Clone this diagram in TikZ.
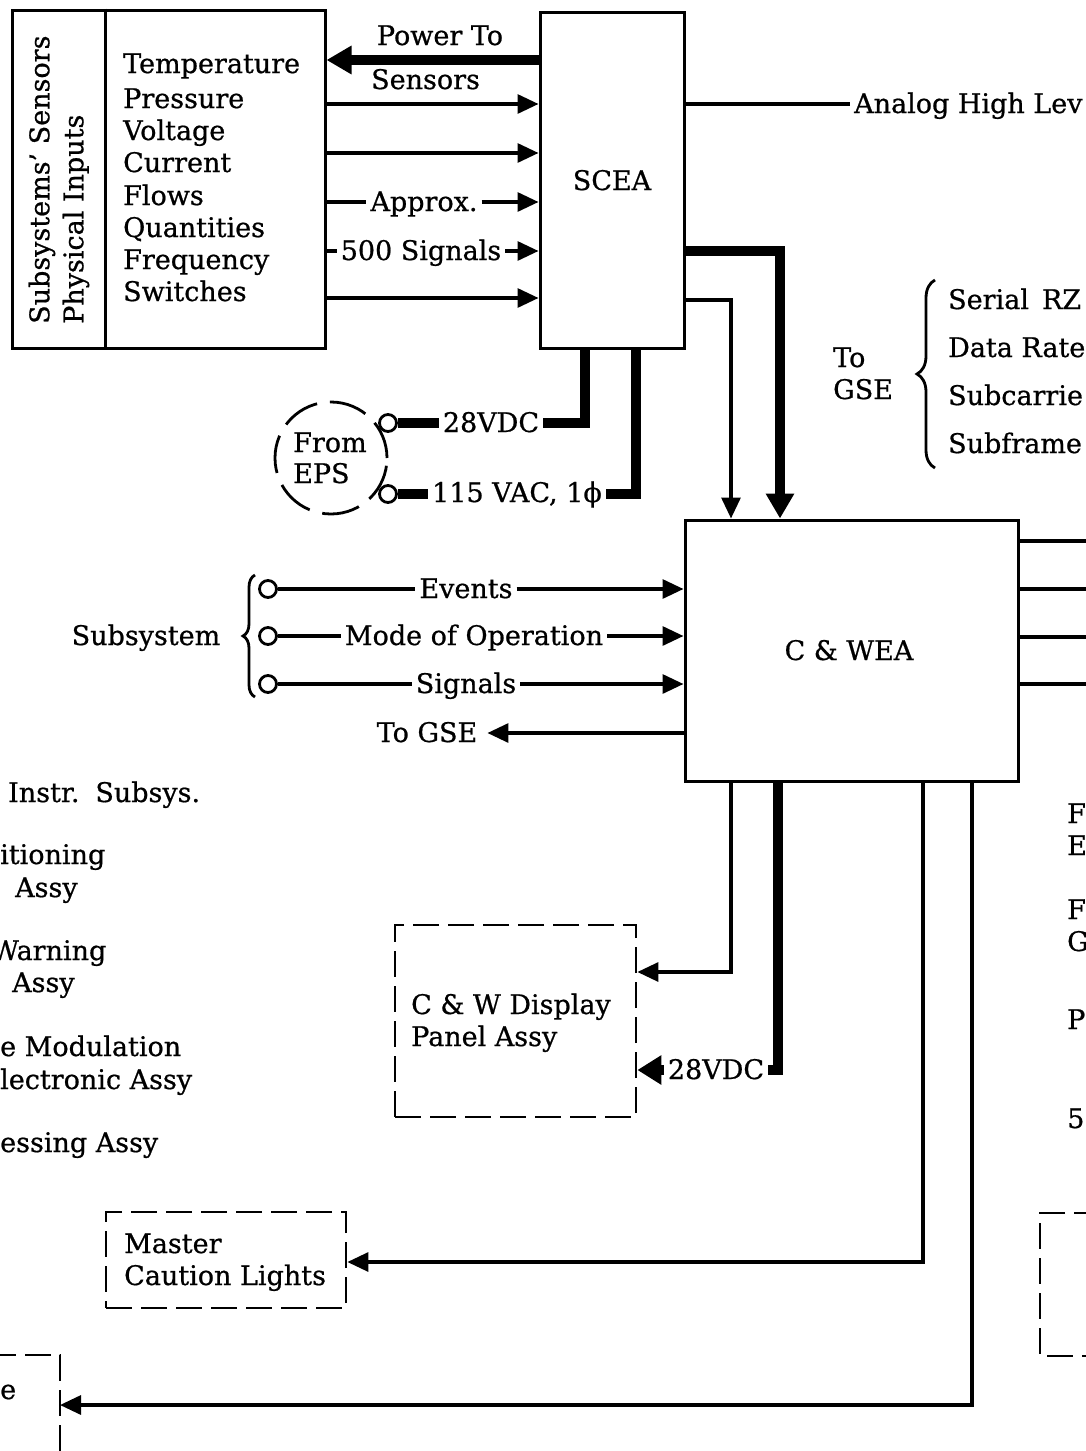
\documentclass[tikz,border=0pt]{standalone}
\usepackage{fontspec}
\setmainfont{DejaVu Serif}[FakeBold=0.7]
\usetikzlibrary{arrows.meta,decorations.pathreplacing,calc}
\begin{document}
\begin{tikzpicture}[x=1pt,y=-1pt,
  wire/.style={line width=3.2pt},
  bus/.style={line width=10pt},
  tipS/.style={-{Triangle[length=21pt,width=19pt]}},
  tipB/.style={-{Triangle[length=25pt,width=27pt]}},
  lbl/.style={font=\fontsize{27}{30}\selectfont, inner xsep=4pt, inner ysep=0pt},
  box/.style={draw, line width=3pt, inner sep=0pt},
  dbox/.style={draw, line width=2.8pt, dash pattern=on 26pt off 9pt, inner sep=0pt},
  term/.style={circle, draw, line width=2.8pt, fill=white, minimum size=17pt, inner sep=0pt},
  brc/.style={line width=2.8pt, decorate, decoration={brace, amplitude=#1}}
]
\useasboundingbox (0,0) rectangle (1086,1451);
\clip (0,0) rectangle (1086,1451);
\fill[white] (0,0) rectangle (1086,1451);

% ---------- sensor box ----------
\node[box, minimum width=313pt, minimum height=338pt] (sens) at (168.5,179) {};
\draw[wire] ([xshift=95pt]sens.north west) -- ([xshift=95pt]sens.south west);
\node[lbl, rotate=90, anchor=west] (s1l) at (42,328) {Subsystems' Sensors};
\node[lbl, rotate=90, anchor=west] (s2l) at (76,328) {Physical Inputs};
\foreach \t/\y [count=\i] in {Temperature/73, Pressure/108, Voltage/140, Current/172, Flows/205, Quantities/237, Frequency/269, Switches/301}
  \node[lbl, anchor=base west, inner xsep=0pt] (q\i) at (123,\y) {\t};

% ---------- SCEA ----------
\node[box, minimum width=144pt, minimum height=336pt] (scea) at (612,180) {};
\node[lbl, anchor=base] (sceat) at (612,190) {SCEA};

\draw[bus, tipB] (scea.west |- 0,60) -- (sens.east |- 0,60);
\node[lbl, anchor=base] (pt) at (440,45) {Power To};
\node[lbl, anchor=base west, inner xsep=0pt] (ps) at (371,89) {Sensors};

\draw[wire, tipS] (sens.east |- 0,104) -- (scea.west |- 0,104);
\draw[wire, tipS] (sens.east |- 0,153) -- (scea.west |- 0,153);
\node[lbl, anchor=base] (apx) at (424,211) {Approx.};
\draw[wire] (sens.east |- 0,202) -- (apx.west |- 0,202);
\draw[wire, tipS] (apx.east |- 0,202) -- (scea.west |- 0,202);
\node[lbl, anchor=base] (sig) at (421,260) {500 Signals};
\draw[wire] (sens.east |- 0,251) -- (sig.west |- 0,251);
\draw[wire, tipS] (sig.east |- 0,251) -- (scea.west |- 0,251);
\draw[wire, tipS] (sens.east |- 0,298) -- (scea.west |- 0,298);

\node[lbl, anchor=base west] (ahl) at (850,113) {Analog High Lev};
\draw[wire] (scea.east |- 0,104) -- (ahl.west |- 0,104);

% ---------- EPS ----------
\node[circle, draw, line width=2.8pt, dash pattern=on 38pt off 13pt, minimum size=112pt, inner sep=0pt] (eps) at (331,458) {};
\node[lbl, anchor=base west, inner xsep=0pt] (epf) at (293,452) {From};
\node[lbl, anchor=base west, inner xsep=0pt] (epe) at (293,483) {EPS};
\node[term] (t28) at (388,423) {};
\node[term] (t115) at (388,494) {};
\node[lbl, anchor=base] (v28) at (491,432) {28VDC};
\node[lbl, anchor=base] (v115) at (517,502) {115 VAC, 1ϕ};
\draw[bus] (t28.east) -- (v28.west |- t28);
\draw[bus] (v28.east |- t28) -| (scea.south -| 585,0);
\draw[bus] (t115.east) -- (v115.west |- t115);
\draw[bus] (v115.east |- t115) -| (scea.south -| 636,0);

% ---------- C & WEA ----------
\node[box, minimum width=333pt, minimum height=261pt] (cwea) at (851.5,650.5) {};
\node[lbl, anchor=base] (cweat) at (849,660) {C \& WEA};
\draw[bus, tipB] (scea.east |- 0,251) -| (cwea.north -| 780,0);
\draw[wire, tipS] (scea.east |- 0,300) -| (cwea.north -| 731,0);

% To GSE (top right)
\node[lbl, anchor=base west, inner xsep=0pt] (tog1) at (833,367) {To};
\node[lbl, anchor=base west, inner xsep=0pt] (tog2) at (833,399) {GSE};
\draw[brc=18pt] (935,468) -- (935,280);
\node[lbl, anchor=base west, inner xsep=0pt] (r1) at (948,309) {Serial\, RZ};
\node[lbl, anchor=base west, inner xsep=0pt] (r2) at (948,357) {Data Rate};
\node[lbl, anchor=base west, inner xsep=0pt] (r3) at (948,405) {Subcarrie};
\node[lbl, anchor=base west, inner xsep=0pt] (r4) at (948,453) {Subframe};

% right outputs
\foreach \y [count=\i] in {541,589,637,684} {
  \coordinate (o\i) at (1090,\y);
  \draw[wire] (cwea.east |- o\i) -- (o\i);
}

% Subsystem inputs
\node[lbl, anchor=base] (subs) at (146,645) {Subsystem};
\draw[brc=12pt] (255,697) -- (255,575);
\node[term] (u1) at (268,589) {};
\node[term] (u2) at (268,636) {};
\node[term] (u3) at (268,684) {};
\node[lbl, anchor=base] (ev) at (466,598) {Events};
\node[lbl, anchor=base] (mo) at (474,645) {Mode of Operation};
\node[lbl, anchor=base] (sg) at (466,693) {Signals};
\draw[wire] (u1.east) -- (ev.west |- u1);
\draw[wire, tipS] (ev.east |- u1) -- (cwea.west |- u1);
\draw[wire] (u2.east) -- (mo.west |- u2);
\draw[wire, tipS] (mo.east |- u2) -- (cwea.west |- u2);
\draw[wire] (u3.east) -- (sg.west |- u3);
\draw[wire, tipS] (sg.east |- u3) -- (cwea.west |- u3);
\node[lbl, anchor=base, inner xsep=10pt] (tg) at (427,742) {To GSE};
\draw[wire, tipS] (cwea.west |- 0,733) -- (tg.east |- 0,733);

% ---------- left cut texts ----------
\node[lbl, anchor=base west, inner xsep=0pt] (c1) at (8,802) {Instr.\, Subsys.};
\node[lbl, anchor=base west, inner xsep=0pt] (c2) at (0,864) {itioning};
\node[lbl, anchor=base west, inner xsep=0pt] (c3) at (15,897) {Assy};
\node[lbl, anchor=base west, inner xsep=0pt] (c4) at (-9,960) {Warning};
\node[lbl, anchor=base west, inner xsep=0pt] (c5) at (12,992) {Assy};
\node[lbl, anchor=base west, inner xsep=0pt] (c6) at (0,1056) {e Modulation};
\node[lbl, anchor=base west, inner xsep=0pt] (c7) at (0,1089) {lectronic Assy};
\node[lbl, anchor=base west, inner xsep=0pt] (c8) at (0,1152) {essing Assy};
\node[lbl, anchor=base west, inner xsep=0pt] (c9) at (0,1399) {e};

% ---------- right cut texts ----------
\foreach \t/\y [count=\i] in {F/823, E/855, F/919, G/951, P/1029, 51/1128}
  \node[lbl, anchor=base west, inner xsep=0pt] (k\i) at (1067,\y) {\t};

% ---------- display panel ----------
\node[dbox, minimum width=241pt, minimum height=192pt] (panel) at (515.5,1021) {};
\node[lbl, anchor=base west, inner xsep=0pt] (pa1) at (411,1014) {C \& W Display};
\node[lbl, anchor=base west, inner xsep=0pt] (pa2) at (411,1046) {Panel Assy};
\draw[wire, tipS] (cwea.south -| 731,0) |- (panel.east |- 0,972);
\node[lbl, anchor=base] (v28b) at (716,1079) {28VDC};
\draw[bus] (cwea.south -| 778,0) |- (v28b.east |- 0,1070);
\draw[bus, -{Triangle[length=24pt,width=28pt]}] (v28b.west |- 0,1070) -- (panel.east |- 0,1070);

% ---------- master caution ----------
\node[dbox, minimum width=240pt, minimum height=96pt] (master) at (226,1260) {};
\node[lbl, anchor=base west, inner xsep=0pt] (m1) at (124,1253) {Master};
\node[lbl, anchor=base west, inner xsep=0pt] (m2) at (124,1285) {Caution Lights};
\draw[wire, tipS] (cwea.south -| 923,0) |- (master.east |- 0,1262);

% ---------- bottom partial boxes ----------
\draw[line width=2.8pt, dash pattern=on 26pt off 9pt] (-10,1355) -- (60,1355) -- (60,1470);
\coordinate (bl) at (60,1405);
\draw[wire, tipS] (cwea.south -| 972,0) |- (bl);
\draw[line width=2.8pt, dash pattern=on 26pt off 9pt] (1100,1213) -- (1040,1213) -- (1040,1356) -- (1100,1356);
\end{tikzpicture}
\end{document}
